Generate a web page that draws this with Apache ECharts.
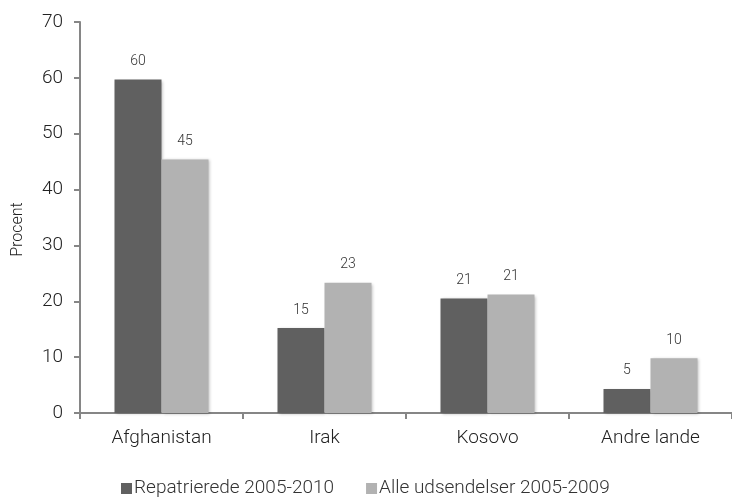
<!DOCTYPE html>
<html><head><meta charset="utf-8">
<script src="https://cdn.jsdelivr.net/npm/echarts@6/dist/echarts.min.js"></script>
<style>html,body{margin:0;padding:0;background:#fff}#c{width:732px;height:499px}</style>
</head><body><div id="c"></div>
<script>
const categories = ['Afghanistan', 'Irak', 'Kosovo', 'Andre lande'];
const repatrierede = [59.7, 15.2, 20.5, 4.3];
const alleUdsendelser = [45.4, 23.3, 21.2, 9.8];
const repLabels = ['60', '15', '21', '5'];
const alleLabels = ['45', '23', '21', '10'];
const seriesNames = ['Repatrierede 2005-2010', 'Alle udsendelser 2005-2009'];
const yTicks = {min: 0, max: 70, interval: 10};

const font = 'Roboto, "DejaVu Sans", sans-serif';
const shadow = {shadowColor: 'rgba(0,0,0,0.25)', shadowBlur: 3, shadowOffsetX: 1, shadowOffsetY: 1};
const chart = echarts.init(document.getElementById('c'));
chart.setOption({
  animation: false,
  textStyle: {fontFamily: font},
  grid: {left: 80, top: 22, width: 656, bottom: 86, containLabel: false},
  legend: {
    top: 474, left: 116, itemWidth: 11, itemHeight: 11, itemGap: 32,
    icon: 'rect',
    textStyle: {fontSize: 19, color: '#333', fontFamily: font, fontWeight: 300, padding: [0,0,0,-3]},
    data: seriesNames
  },
  xAxis: {
    type: 'category', data: categories,
    axisLine: {lineStyle: {color: '#868686', width: 2}},
    axisTick: {show: true, length: 6, lineStyle: {color: '#868686', width: 2}},
    axisLabel: {fontSize: 19, color: '#222', margin: 16, fontFamily: font, fontWeight: 300}
  },
  yAxis: {
    type: 'value', min: yTicks.min, max: yTicks.max, interval: yTicks.interval,
    name: 'Procent', nameLocation: 'middle', nameGap: 54, nameRotate: 90,
    nameTextStyle: {fontSize: 16, color: '#222', fontFamily: font, fontWeight: 300, padding: [0, 24, 0, 0]},
    splitLine: {show: false},
    axisLine: {show: true, lineStyle: {color: '#868686', width: 2}},
    axisTick: {show: true, length: 6, lineStyle: {color: '#868686', width: 2}},
    axisLabel: {fontSize: 19, color: '#222', margin: 17, fontFamily: font, fontWeight: 300}
  },
  series: [
    {
      name: seriesNames[0], type: 'bar', data: repatrierede, barWidth: 47, barGap: '0%',
      itemStyle: Object.assign({color: '#606060'}, shadow),
      label: {show: true, position: 'top', distance: 11, fontSize: 14, color: '#333', fontFamily: font, fontWeight: 300,
        formatter: p => repLabels[p.dataIndex]}
    },
    {
      name: seriesNames[1], type: 'bar', data: alleUdsendelser, barWidth: 47, barGap: '0%',
      itemStyle: Object.assign({color: '#b2b2b2'}, shadow),
      label: {show: true, position: 'top', distance: 11, fontSize: 14, color: '#333', fontFamily: font, fontWeight: 300,
        formatter: p => alleLabels[p.dataIndex]}
    }
  ]
});
</script></body></html>
